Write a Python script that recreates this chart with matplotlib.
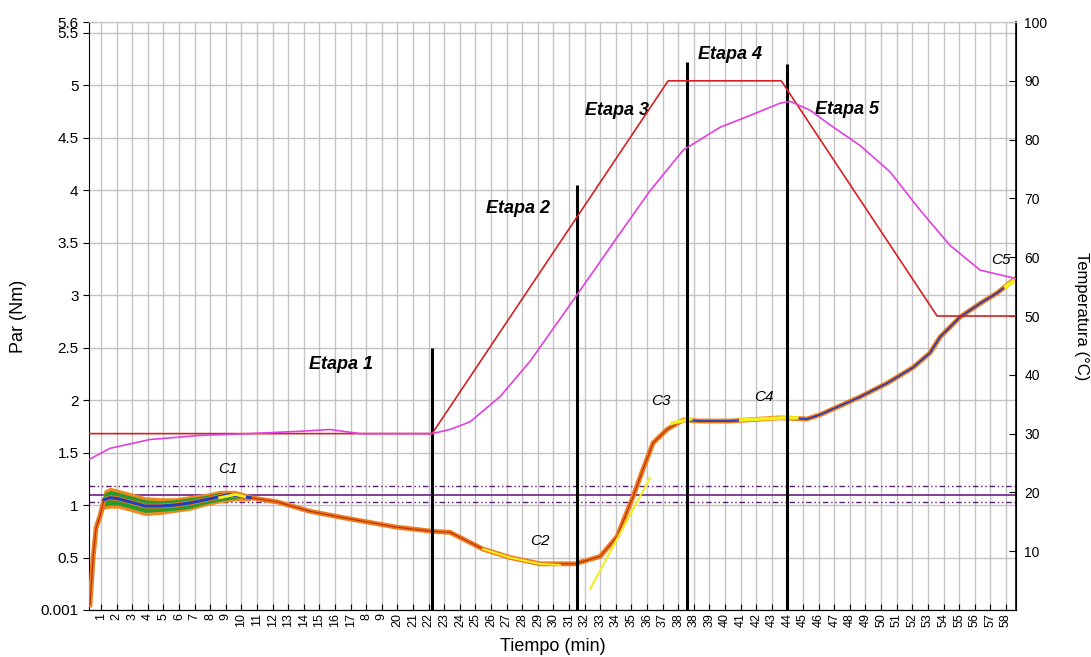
import numpy as np
import matplotlib.pyplot as plt

plt.rcParams['font.family'] = ['Liberation Sans', 'DejaVu Sans']

# eje de tiempo (posiciones de las marcas y sus etiquetas)
tick_labels = ['1', '2', '3', '4', '5', '6', '7', '8', '9', '10', '11', '12', '13', '14',
               '15', '16', '17', '8', '9', '20', '21', '22', '23', '24', '25', '26', '27',
               '28', '29', '30', '31', '32', '33', '34', '35', '36', '37', '38', '38', '39',
               '40', '41', '42', '43', '44', '45', '46', '47', '48', '49', '50', '51', '52',
               '53', '54', '55', '56', '57', '58']

# par (Nm)
t_par = [0.29, 0.49, 0.68, 0.94, 1.19, 1.58, 2.09, 2.86, 3.82, 4.78, 5.74, 6.71, 7.67,
         8.63, 9.2, 9.59, 10.55, 12.3, 14.4, 16.5, 19.9, 22.22, 23.37, 25.49, 27.22,
         29.14, 31.38, 32.99, 34.08, 35.1, 35.74, 36.38, 37.28, 38.31, 39.4, 41.32,
         44.53, 46.26, 47.09, 49.65, 51.38, 53.05, 54.14, 54.78, 56.06, 57.35, 58.44,
         59.46, 59.65]
par = [0.05, 0.5, 0.78, 0.9, 1.05, 1.07, 1.06, 1.03, 0.99, 0.99, 1.0, 1.02, 1.05,
       1.08, 1.10, 1.09, 1.07, 1.03, 0.94, 0.88, 0.79, 0.75, 0.74, 0.58, 0.5,
       0.44, 0.44, 0.51, 0.70, 1.08, 1.34, 1.59, 1.72, 1.81, 1.80, 1.80,
       1.83, 1.82, 1.86, 2.03, 2.16, 2.31, 2.45, 2.6, 2.79, 2.92, 3.02,
       3.14, 3.16]

# banda de ruido al inicio del ensayo
t_banda = [0.9, 1.19, 1.58, 2.09, 2.86, 3.82, 4.78, 5.74, 6.71, 7.67, 8.63, 9.59, 10.55]
banda_naranja = [0.05, 0.09, 0.10, 0.09, 0.09, 0.09, 0.08, 0.07, 0.07, 0.06, 0.06, 0.05, 0.03]
banda_verde = [0.03, 0.06, 0.07, 0.06, 0.06, 0.06, 0.05, 0.05, 0.05, 0.04, 0.04, 0.03, 0.0]

# temperatura programada y medida (°C)
t_consigna = [0.23, 22.22, 37.35, 44.6, 54.59, 59.65]
consigna = [30, 30, 90, 90, 50, 50]

t_temp = [0.23, 1.58, 4.14, 7.35, 10.55, 13.76, 15.68, 17.6, 20.17, 22.22, 23.37, 24.65,
          26.58, 28.5, 30.42, 32.35, 34.27, 36.19, 38.31, 39.4, 40.68, 42.6, 44.53, 45.17,
          46.45, 47.73, 49.65, 51.58, 53.5, 55.42, 57.35, 59.59]
temp = [25.6, 27.5, 29.0, 29.7, 30.0, 30.4, 30.7, 30.0, 30.0, 30.0, 30.7, 32.0,
        36.3, 42.3, 49.5, 56.8, 64.1, 71.3, 78.2, 80.0, 82.1, 84.1, 86.2, 86.5,
        85.0, 82.5, 79.0, 74.5, 68.0, 62.0, 57.8, 56.4]

# cortes entre etapas: posicion y altura (Nm)
t_cortes = [22.22, 31.51, 38.56, 45.0]
alto_cortes = [2.5, 4.05, 5.22, 5.2]
etapas = ['Etapa 1', 'Etapa 2', 'Etapa 3', 'Etapa 4', 'Etapa 5']
t_etapas = [16.4, 27.7, 34.1, 41.3, 48.8]
y_etapas = [2.34, 3.82, 4.76, 5.29, 4.77]

puntos_c = ['C1', 'C2', 'C3', 'C4', 'C5']
t_c = [9.1, 29.1, 36.9, 43.5, 58.7]
y_c = [1.34, 0.66, 1.99, 2.03, 3.33]

# lineas horizontales de referencia
ref_media = 1.10
ref_lim = [1.18, 1.03]

fig = plt.figure(figsize=(10.91, 6.57), dpi=100)
ax = fig.add_axes([0.0816, 0.0715, 0.8497, 0.895])
ax2 = ax.twinx()

ax.set_xlim(0.23, 59.65)
ax.set_ylim(0, 5.6)
ax2.set_ylim(0, 100)

# rejilla
ax.set_xticks(np.arange(1, len(tick_labels) + 1))
ax.set_xticklabels(tick_labels, rotation=90, fontsize=9)
ax.grid(True, color='#c4c4c4', linewidth=1)
ax.set_axisbelow(True)

yt = [0.001, 0.5, 1, 1.5, 2, 2.5, 3, 3.5, 4, 4.5, 5, 5.5, 5.6]
ax.set_yticks(yt)
ax.set_yticklabels(['0.001', '0.5', '1', '1.5', '2', '2.5', '3', '3.5', '4', '4.5',
                    '5', '5.5', '5.6'], fontsize=11)
ax.tick_params(axis='x', direction='in', length=4, pad=2)
ax.tick_params(axis='y', direction='out', length=4)
ax2.set_yticks(np.arange(10, 101, 10))
ax2.tick_params(axis='y', direction='in', length=5, labelsize=10, pad=6)

for s in ['left', 'bottom']:
    ax.spines[s].set_color('black')
ax2.spines['right'].set_color('black')
ax2.spines['right'].set_linewidth(1.2)
ax.spines['top'].set_color('#c4c4c4')
ax2.spines['top'].set_color('#c4c4c4')
ax2.spines['left'].set_visible(False)

# referencias horizontales
ax.axhline(ref_media, color='#7a2f90', linewidth=1.3, zorder=2)
for v in ref_lim:
    ax.axhline(v, color='#5a1f70', linewidth=1, linestyle=(0, (4, 2, 1, 2, 1, 2)), zorder=2)

# temperaturas
ax2.plot(t_consigna, consigna, color='#d42020', linewidth=1.2, zorder=3)
ax2.plot(t_temp, temp, color='#e040e0', linewidth=1.2, zorder=3)

# curva de par
ti = np.array(t_banda)
pi = np.interp(ti, t_par, par)
ax.fill_between(ti, pi - banda_naranja, pi + banda_naranja, color='#f08a20', lw=0, zorder=4)
ax.fill_between(ti, pi - banda_verde, pi + banda_verde, color='#2a9a2a', lw=0, zorder=4)
ax.plot(t_par, par, color='#f07a1a', linewidth=3.5, zorder=5)
ax.plot(t_par, par, color='#b03010', linewidth=0.8, zorder=6)
ax.plot(t_par[4:17], par[4:17], color='#1f3fc0', linewidth=2.2, zorder=6)
ax.plot(t_par[33:], par[33:], color='#1f3fc0', linewidth=1.2, zorder=6)

# ajustes amarillos en los puntos caracteristicos
ax.plot([8.6, 9.6, 10.2], [1.07, 1.10, 1.08], color='#f0f020', linewidth=2, zorder=7)
ax.plot([25.5, 27.2, 29.1, 30.4], [0.58, 0.5, 0.44, 0.43], color='#f0f020', linewidth=1.5, zorder=7)
ax.plot([32.35, 36.19], [0.2, 1.26], color='#f0f020', linewidth=1.5, zorder=7)
ax.plot([37.6, 38.8], [1.78, 1.82], color='#f0f020', linewidth=2.5, zorder=7)
ax.plot([42.0, 44.7, 45.6], [1.81, 1.83, 1.83], color='#f0f020', linewidth=2.5, zorder=7)
ax.plot([59.0, 59.65], [3.08, 3.15], color='#f0f020', linewidth=3, zorder=7)

# lineas de cambio de etapa
ax.vlines(t_cortes, 0, alto_cortes, color='black', linewidth=2.2, zorder=8)

for txt, x, y in zip(etapas, t_etapas, y_etapas):
    ax.text(x, y, txt, fontsize=13, fontweight='bold', fontstyle='italic', ha='center',
            va='center', zorder=9)
for txt, x, y in zip(puntos_c, t_c, y_c):
    ax.text(x, y, txt, fontsize=11, fontstyle='italic', ha='center', va='center', zorder=9)

ax.set_xlabel('Tiempo (min)', fontsize=13, labelpad=8)
ax.set_ylabel('Par (Nm)', fontsize=13, labelpad=10)
ax2.set_ylabel('Temperatura (°C)', fontsize=12, rotation=-90, labelpad=30)

fig.savefig('out.png', dpi=100)
